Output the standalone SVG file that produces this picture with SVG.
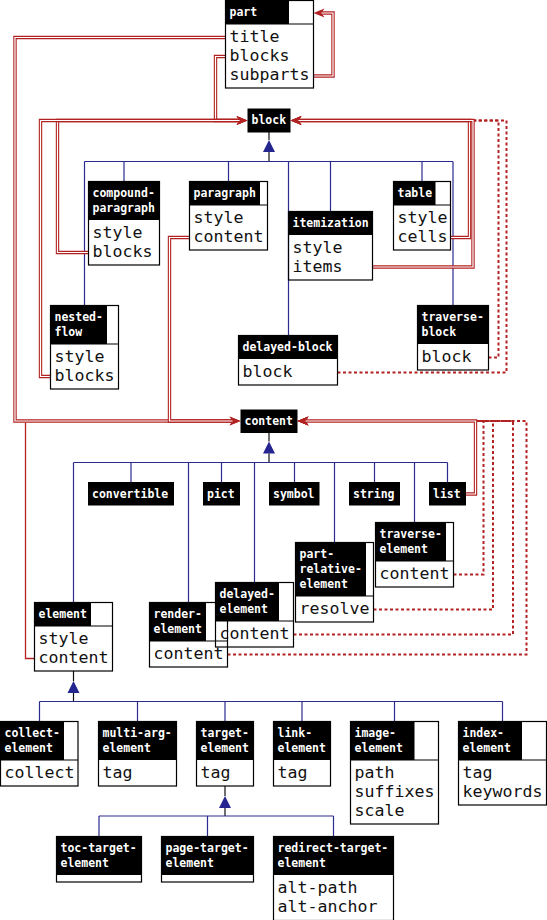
<svg xmlns="http://www.w3.org/2000/svg" width="547" height="920" viewBox="0 0 547 920">
<style>
.box{fill:none;stroke:#000;stroke-width:1.2}
.hd{fill:#000}
.sep{stroke:#000;stroke-width:1.2}
.h{font-family:"DejaVu Sans Mono",monospace;font-weight:bold;font-size:11.5px;fill:#fff}
.f{font-family:"DejaVu Sans Mono",monospace;font-size:16.6px;fill:#111}
.inh{fill:none;stroke:#2b2b8f;stroke-width:1.2}
.stem{fill:none;stroke:#111;stroke-width:1.2}
.tri{fill:#25258f}
.dbl{fill:none;stroke:#b22222;stroke-width:3.4}
.dbl-in{fill:none;stroke:#fff;stroke-width:1.2}
.sgl{fill:none;stroke:#b22222;stroke-width:1.3}
.dot{fill:none;stroke:#b22222;stroke-width:2;stroke-dasharray:3 2.5}
</style>
<defs>
<marker id="arr" markerUnits="userSpaceOnUse" markerWidth="16" markerHeight="14" viewBox="-5 -7 16 14" refX="0" refY="0" orient="auto">
<path d="M-3,-4.5 L8,0 L-3,4.5 L0,0 Z" fill="#b22222"/>
</marker>
</defs>

<g id="connectors">
<!-- inheritance: block -->
<path class="stem" d="M269,132 V140 M269,152 V161.5"/>
<path class="tri" d="M269,140 L263,152 L275,152 Z"/>
<path class="inh" d="M84.5,161.5 H453 M84.5,161.5 V305.5 M124,161.5 V181.5 M228.5,161.5 V181.5 M288.5,161.5 V335.5 M330.5,161.5 V211.5 M422,161.5 V181.5 M453,161.5 V305.5"/>
<!-- inheritance: content -->
<path class="stem" d="M269,433 V441.5 M269,453.5 V462.5"/>
<path class="tri" d="M269,441.5 L263,453.5 L275,453.5 Z"/>
<path class="inh" d="M73.5,462.5 H447.5 M73.5,462.5 V602.5 M131,462.5 V482 M188.5,462.5 V602.5 M221.5,462.5 V482 M254.5,462.5 V582.5 M294.5,462.5 V482 M334.5,462.5 V542.5 M374.5,462.5 V482 M414.5,462.5 V522.5 M447.5,462.5 V482"/>
<!-- inheritance: element -->
<path class="stem" d="M73.5,671 V681 M73.5,693 V701.5"/>
<path class="tri" d="M73.5,681 L67.5,693 L79.5,693 Z"/>
<path class="inh" d="M39.5,701.5 H502.5 M39.5,701.5 V721.5 M137.5,701.5 V721.5 M225,701.5 V721.5 M302,701.5 V721.5 M394.5,701.5 V721.5 M502.5,701.5 V721.5"/>
<!-- inheritance: target-element -->
<path class="stem" d="M225,786 V796 M225,808 V816"/>
<path class="tri" d="M225,796 L219,808 L231,808 Z"/>
<path class="inh" d="M99,816 H333.5 M99,816 V836.5 M207.5,816 V836.5 M333.5,816 V836.5"/>

<!-- dotted references -->
<path class="dot" d="M488.5,357.5 H498.5 V120.5 H298.5" marker-end="url(#arr)"/>
<path class="dot" d="M337.5,372.5 H506.5 V120.5 H298.5" marker-end="url(#arr)"/>
<path class="dot" d="M453.5,574.5 H483.5 V421 H305.5" marker-end="url(#arr)"/>
<path class="dot" d="M373.5,609.5 H493 V421 H305.5" marker-end="url(#arr)"/>
<path class="dot" d="M293.5,634.5 H513 V421 H305.5" marker-end="url(#arr)"/>
<path class="dot" d="M227.5,654.5 H526.5 V421 H305.5" marker-end="url(#arr)"/>

<!-- double (many) references -->
<path class="dbl" d="M313.5,76 H333 V13 H321.5" marker-end="url(#arr)"/>
<path class="dbl-in" d="M313.5,76 H333 V13 H321.5"/>
<path class="dbl" d="M225.5,37.5 H15 V421 H232.5" marker-end="url(#arr)"/>
<path class="dbl-in" d="M225.5,37.5 H15 V421 H232.5"/>
<path class="dbl" d="M225.5,56.5 H215.5 V120.5 H239.5" marker-end="url(#arr)"/>
<path class="dbl-in" d="M225.5,56.5 H215.5 V120.5 H239.5"/>
<path class="dbl" d="M88.5,252.5 H57.5 V120.5 H239.5" marker-end="url(#arr)"/>
<path class="dbl-in" d="M88.5,252.5 H57.5 V120.5 H239.5"/>
<path class="dbl" d="M50.5,376.5 H40.5 V120.5 H239.5" marker-end="url(#arr)"/>
<path class="dbl-in" d="M50.5,376.5 H40.5 V120.5 H239.5"/>
<path class="dbl" d="M189.5,237.5 H169.5 V421 H232.5" marker-end="url(#arr)"/>
<path class="dbl-in" d="M189.5,237.5 H169.5 V421 H232.5"/>
<path class="dbl" d="M451,237.5 H469.5 V120.5 H298.5" marker-end="url(#arr)"/>
<path class="dbl-in" d="M451,237.5 H469.5 V120.5 H298.5"/>
<path class="dbl" d="M372.5,267 H473 V120.5 H298.5" marker-end="url(#arr)"/>
<path class="dbl-in" d="M372.5,267 H473 V120.5 H298.5"/>
<path class="dbl" d="M466,494 H475.5 V421 H305.5" marker-end="url(#arr)"/>
<path class="dbl-in" d="M466,494 H475.5 V421 H305.5"/>
<!-- single reference -->
<path class="sgl" d="M34.5,658.5 H25.5 V422.7"/>
</g>

<g id="part">
<rect class="hd" x="225.5" y="0.5" width="63.5" height="23.5"/>
<rect class="box" x="225.5" y="0.5" width="88" height="87.5"/>
<line class="sep" x1="225.5" y1="24" x2="313.5" y2="24"/>
<text class="h" x="229.5" y="15.5">part</text>
<text class="f" x="229.5" y="41.5">title</text>
<text class="f" x="229.5" y="60.5">blocks</text>
<text class="f" x="229.5" y="79.5">subparts</text>
</g>

<g id="block">
<rect class="hd" x="247.5" y="108.5" width="43" height="24"/>
<text class="h" x="251.5" y="124">block</text>
</g>

<g id="compound-paragraph">
<rect class="hd" x="88.5" y="181.5" width="71" height="38.5"/>
<rect class="box" x="88.5" y="181.5" width="71" height="83.5"/>
<text class="h" x="92.5" y="196.5">compound-</text>
<text class="h" x="92.5" y="211.5">paragraph</text>
<text class="f" x="92.5" y="237.5">style</text>
<text class="f" x="92.5" y="256.5">blocks</text>
</g>

<g id="paragraph">
<rect class="hd" x="189.5" y="181.5" width="70.5" height="23.5"/>
<rect class="box" x="189.5" y="181.5" width="78" height="68.5"/>
<line class="sep" x1="189.5" y1="205" x2="267.5" y2="205"/>
<text class="h" x="193.5" y="196.5">paragraph</text>
<text class="f" x="193.5" y="222.5">style</text>
<text class="f" x="193.5" y="241.5">content</text>
</g>

<g id="itemization">
<rect class="hd" x="288.5" y="211.5" width="84" height="23.5"/>
<rect class="box" x="288.5" y="211.5" width="84" height="68.5"/>
<text class="h" x="292.5" y="226.5">itemization</text>
<text class="f" x="292.5" y="252.5">style</text>
<text class="f" x="292.5" y="271.5">items</text>
</g>

<g id="table">
<rect class="hd" x="393.5" y="181.5" width="42" height="23.5"/>
<rect class="box" x="393.5" y="181.5" width="57" height="68.5"/>
<line class="sep" x1="393.5" y1="205" x2="450.5" y2="205"/>
<text class="h" x="397.5" y="196.5">table</text>
<text class="f" x="397.5" y="222.5">style</text>
<text class="f" x="397.5" y="241.5">cells</text>
</g>

<g id="nested-flow">
<rect class="hd" x="50.5" y="305.5" width="56.5" height="38.5"/>
<rect class="box" x="50.5" y="305.5" width="68" height="83.5"/>
<line class="sep" x1="50.5" y1="344" x2="118.5" y2="344"/>
<text class="h" x="54.5" y="320.5">nested-</text>
<text class="h" x="54.5" y="335.5">flow</text>
<text class="f" x="54.5" y="361.5">style</text>
<text class="f" x="54.5" y="380.5">blocks</text>
</g>

<g id="delayed-block">
<rect class="hd" x="238.5" y="335.5" width="99" height="23.5"/>
<rect class="box" x="238.5" y="335.5" width="99" height="49.5"/>
<text class="h" x="242.5" y="350.5">delayed-block</text>
<text class="f" x="242.5" y="376.5">block</text>
</g>

<g id="traverse-block">
<rect class="hd" x="417.5" y="305.5" width="71" height="38.5"/>
<rect class="box" x="417.5" y="305.5" width="71" height="64.5"/>
<text class="h" x="421.5" y="320.5">traverse-</text>
<text class="h" x="421.5" y="335.5">block</text>
<text class="f" x="421.5" y="361.5">block</text>
</g>

<g id="content">
<rect class="hd" x="240.5" y="409.5" width="57" height="23.5"/>
<text class="h" x="244.5" y="425">content</text>
</g>

<g id="convertible">
<rect class="hd" x="88" y="482" width="86" height="23.5"/>
<text class="h" x="92" y="497.5">convertible</text>
</g>
<g id="pict">
<rect class="hd" x="203" y="482" width="37" height="23.5"/>
<text class="h" x="207" y="497.5">pict</text>
</g>
<g id="symbol">
<rect class="hd" x="269" y="482" width="50.5" height="23.5"/>
<text class="h" x="273" y="497.5">symbol</text>
</g>
<g id="string">
<rect class="hd" x="349" y="482" width="51" height="23.5"/>
<text class="h" x="353" y="497.5">string</text>
</g>
<g id="list">
<rect class="hd" x="429" y="482" width="37" height="23.5"/>
<text class="h" x="433" y="497.5">list</text>
</g>

<g id="traverse-element">
<rect class="hd" x="375.5" y="522.5" width="70.5" height="38.5"/>
<rect class="box" x="375.5" y="522.5" width="78" height="64.5"/>
<line class="sep" x1="375.5" y1="561" x2="453.5" y2="561"/>
<text class="h" x="379.5" y="537.5">traverse-</text>
<text class="h" x="379.5" y="552.5">element</text>
<text class="f" x="379.5" y="578.5">content</text>
</g>

<g id="part-relative-element">
<rect class="hd" x="295.5" y="542.5" width="70.5" height="53.5"/>
<rect class="box" x="295.5" y="542.5" width="78" height="79.5"/>
<line class="sep" x1="295.5" y1="596" x2="373.5" y2="596"/>
<text class="h" x="299.5" y="557.5">part-</text>
<text class="h" x="299.5" y="572.5">relative-</text>
<text class="h" x="299.5" y="587.5">element</text>
<text class="f" x="299.5" y="613.5">resolve</text>
</g>

<g id="delayed-element">
<rect class="hd" x="215.5" y="582.5" width="63.5" height="38.5"/>
<rect class="box" x="215.5" y="582.5" width="78" height="64.5"/>
<line class="sep" x1="215.5" y1="621" x2="293.5" y2="621"/>
<text class="h" x="219.5" y="597.5">delayed-</text>
<text class="h" x="219.5" y="612.5">element</text>
<text class="f" x="219.5" y="638.5">content</text>
</g>

<g id="render-element">
<rect class="hd" x="149.5" y="602.5" width="56.5" height="38.5"/>
<rect class="box" x="149.5" y="602.5" width="78" height="64.5"/>
<line class="sep" x1="149.5" y1="641" x2="227.5" y2="641"/>
<text class="h" x="153.5" y="617.5">render-</text>
<text class="h" x="153.5" y="632.5">element</text>
<text class="f" x="153.5" y="658.5">content</text>
</g>

<g id="element">
<rect class="hd" x="34.5" y="602.5" width="56.5" height="23.5"/>
<rect class="box" x="34.5" y="602.5" width="78" height="68.5"/>
<line class="sep" x1="34.5" y1="626" x2="112.5" y2="626"/>
<text class="h" x="38.5" y="617.5">element</text>
<text class="f" x="38.5" y="643.5">style</text>
<text class="f" x="38.5" y="662.5">content</text>
</g>

<g id="collect-element">
<rect class="hd" x="0.5" y="721.5" width="63.5" height="38.5"/>
<rect class="box" x="0.5" y="721.5" width="77.5" height="64.5"/>
<line class="sep" x1="0.5" y1="760" x2="78" y2="760"/>
<text class="h" x="4.5" y="736.5">collect-</text>
<text class="h" x="4.5" y="751.5">element</text>
<text class="f" x="4.5" y="777.5">collect</text>
</g>

<g id="multi-arg-element">
<rect class="hd" x="98.5" y="721.5" width="78" height="38.5"/>
<rect class="box" x="98.5" y="721.5" width="78" height="64.5"/>
<text class="h" x="102.5" y="736.5">multi-arg-</text>
<text class="h" x="102.5" y="751.5">element</text>
<text class="f" x="102.5" y="777.5">tag</text>
</g>

<g id="target-element">
<rect class="hd" x="196.5" y="721.5" width="57" height="38.5"/>
<rect class="box" x="196.5" y="721.5" width="57" height="64.5"/>
<text class="h" x="200.5" y="736.5">target-</text>
<text class="h" x="200.5" y="751.5">element</text>
<text class="f" x="200.5" y="777.5">tag</text>
</g>

<g id="link-element">
<rect class="hd" x="273.5" y="721.5" width="57" height="38.5"/>
<rect class="box" x="273.5" y="721.5" width="57" height="64.5"/>
<text class="h" x="277.5" y="736.5">link-</text>
<text class="h" x="277.5" y="751.5">element</text>
<text class="f" x="277.5" y="777.5">tag</text>
</g>

<g id="image-element">
<rect class="hd" x="350.5" y="721.5" width="64" height="38.5"/>
<rect class="box" x="350.5" y="721.5" width="88" height="102.5"/>
<line class="sep" x1="350.5" y1="760" x2="438.5" y2="760"/>
<text class="h" x="354.5" y="736.5">image-</text>
<text class="h" x="354.5" y="751.5">element</text>
<text class="f" x="354.5" y="777.5">path</text>
<text class="f" x="354.5" y="796.5">suffixes</text>
<text class="f" x="354.5" y="815.5">scale</text>
</g>

<g id="index-element">
<rect class="hd" x="458.5" y="721.5" width="63.5" height="38.5"/>
<rect class="box" x="458.5" y="721.5" width="88" height="83.5"/>
<line class="sep" x1="458.5" y1="760" x2="546.5" y2="760"/>
<text class="h" x="462.5" y="736.5">index-</text>
<text class="h" x="462.5" y="751.5">element</text>
<text class="f" x="462.5" y="777.5">tag</text>
<text class="f" x="462.5" y="796.5">keywords</text>
</g>

<g id="toc-target-element">
<rect class="hd" x="56.5" y="836.5" width="85" height="38.5"/>
<rect class="box" x="56.5" y="836.5" width="85" height="45.5"/>
<text class="h" x="60.5" y="851.5">toc-target-</text>
<text class="h" x="60.5" y="866.5">element</text>
</g>

<g id="page-target-element">
<rect class="hd" x="161.5" y="836.5" width="92" height="38.5"/>
<rect class="box" x="161.5" y="836.5" width="92" height="45.5"/>
<text class="h" x="165.5" y="851.5">page-target-</text>
<text class="h" x="165.5" y="866.5">element</text>
</g>

<g id="redirect-target-element">
<rect class="hd" x="273.5" y="836.5" width="120" height="38.5"/>
<rect class="box" x="273.5" y="836.5" width="120" height="84"/>
<text class="h" x="277.5" y="851.5">redirect-target-</text>
<text class="h" x="277.5" y="866.5">element</text>
<text class="f" x="277.5" y="892.5">alt-path</text>
<text class="f" x="277.5" y="911.5">alt-anchor</text>
</g>
</svg>
